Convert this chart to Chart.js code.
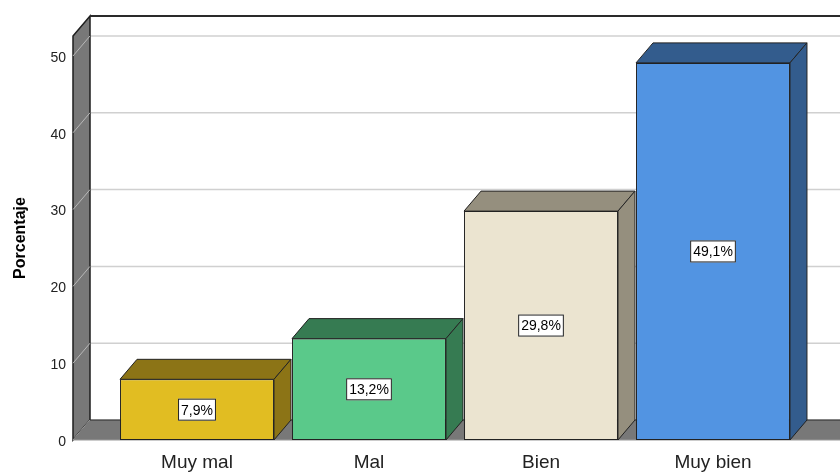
<!DOCTYPE html>
<html>
<head>
<meta charset="utf-8">
<script src="https://cdn.jsdelivr.net/npm/chart.js@4.4.1/dist/chart.umd.min.js"></script>
<style>
  html, body { margin: 0; padding: 0; background: #fff; }
</style>
</head>
<body>
<canvas id="barChart" width="840" height="472"></canvas>
<script>
const categories = ["Muy mal", "Mal", "Bien", "Muy bien"];
const percentages = [7.9, 13.2, 29.8, 49.1];
const yTicks = [0, 10, 20, 30, 40, 50];
const yMax = 52.6;

const frontColors = ["#e1bd22", "#5ac98a", "#ebe4d0", "#5294e2"];
const shadeColors = ["#8c7416", "#367b52", "#958f7e", "#335c8d"];

// 3d look: how far the back plane sits from the front plane
const depth = { x: 17, y: 20 };
const wallGap = 38;

Chart.defaults.font.family = "'Liberation Sans', Arial, sans-serif";

const poly = (ctx, pts) => {
  ctx.beginPath();
  ctx.moveTo(pts[0][0], pts[0][1]);
  pts.slice(1).forEach((p) => ctx.lineTo(p[0], p[1]));
  ctx.closePath();
};

const line = (ctx, x1, y1, x2, y2) => {
  ctx.beginPath();
  ctx.moveTo(x1, y1);
  ctx.lineTo(x2, y2);
  ctx.stroke();
};

const box3d = {
  id: "box3d",
  beforeDatasetsDraw(chart) {
    const { ctx, chartArea: a } = chart;
    const y = chart.scales.y;
    const wx = a.left - wallGap;
    const bx = wx + depth.x;
    const far = chart.width + depth.x + 5;
    ctx.save();

    // grid lines on the back wall
    ctx.strokeStyle = "#d0d0d0";
    ctx.lineWidth = 1.5;
    y.ticks.forEach((t) => {
      const py = y.getPixelForValue(t.value) - depth.y;
      line(ctx, bx, py, chart.width, py);
    });

    // left wall
    ctx.fillStyle = "#787878";
    ctx.strokeStyle = "#1e1e1e";
    ctx.lineWidth = 1.5;
    poly(ctx, [[wx, a.top], [bx, a.top - depth.y], [bx, a.bottom - depth.y], [wx, a.bottom]]);
    ctx.fill();
    ctx.stroke();

    ctx.strokeStyle = "#b8b8b8";
    ctx.lineWidth = 1;
    y.ticks.forEach((t) => {
      const py = y.getPixelForValue(t.value);
      line(ctx, wx, py, bx, py - depth.y);
    });

    // floor
    ctx.fillStyle = "#787878";
    poly(ctx, [[wx, a.bottom], [bx, a.bottom - depth.y], [far, a.bottom - depth.y], [far, a.bottom]]);
    ctx.fill();
    ctx.strokeStyle = "#2a2a2a";
    ctx.lineWidth = 1.2;
    line(ctx, bx, a.bottom - depth.y, chart.width, a.bottom - depth.y);
    ctx.strokeStyle = "#9a9a9a";
    line(ctx, wx, a.bottom, chart.width, a.bottom);

    // top edge of back wall
    ctx.strokeStyle = "#2a2a2a";
    ctx.lineWidth = 2;
    line(ctx, bx, a.top - depth.y, chart.width, a.top - depth.y);
    ctx.restore();
  },
  afterDatasetsDraw(chart) {
    const { ctx } = chart;
    const meta = chart.getDatasetMeta(0);
    ctx.save();
    meta.data.forEach((bar, i) => {
      const { x, y, base, width } = bar.getProps(["x", "y", "base", "width"], true);
      const l = x - width / 2;
      const r = x + width / 2;
      ctx.fillStyle = shadeColors[i];
      ctx.strokeStyle = "#222";
      ctx.lineWidth = 1;
      // top face
      poly(ctx, [[l, y], [l + depth.x, y - depth.y], [r + depth.x, y - depth.y], [r, y]]);
      ctx.fill();
      ctx.stroke();
      // side face
      poly(ctx, [[r, y], [r + depth.x, y - depth.y], [r + depth.x, base - depth.y], [r, base]]);
      ctx.fill();
      ctx.stroke();

      // value label box
      const text = percentages[i].toFixed(1).replace(".", ",") + "%";
      ctx.font = "14px 'Liberation Sans', Arial, sans-serif";
      const tw = ctx.measureText(text).width;
      const cy = (y + base) / 2;
      const bw = tw + 6;
      const bh = 22;
      ctx.fillStyle = "#fff";
      ctx.fillRect(x - bw / 2, cy - bh / 2, bw, bh);
      ctx.strokeStyle = "#222";
      ctx.strokeRect(x - bw / 2 + 0.5, cy - bh / 2 + 0.5, bw - 1, bh - 1);
      ctx.fillStyle = "#000";
      ctx.textAlign = "center";
      ctx.textBaseline = "middle";
      ctx.fillText(text, x, cy + 1);
    });
    ctx.restore();
  },
};

new Chart(document.getElementById("barChart").getContext("2d"), {
  type: "bar",
  data: {
    labels: categories,
    datasets: [
      {
        label: "Porcentaje",
        data: percentages,
        backgroundColor: frontColors,
        borderColor: "#222",
        borderWidth: 1,
        borderSkipped: false,
        barPercentage: 0.895,
        categoryPercentage: 1,
      },
    ],
  },
  options: {
    responsive: false,
    animation: false,
    devicePixelRatio: 1,
    layout: { padding: { left: 7, right: 41, top: 36, bottom: 0 } },
    plugins: {
      legend: { display: false },
      tooltip: { enabled: false },
    },
    scales: {
      x: {
        offset: true,
        grid: { display: false, drawTicks: false },
        border: { display: false },
        ticks: { padding: 11, color: "#222", font: { size: 19 }, maxRotation: 0 },
        afterFit: (scale) => {
          scale.height = 32;
        },
      },
      y: {
        min: 0,
        max: yMax,
        grid: { display: false, drawTicks: false },
        border: { display: false },
        ticks: { padding: 45, labelOffset: 2, color: "#222", font: { size: 14 } },
        afterBuildTicks: (scale) => {
          scale.ticks = yTicks.map((v) => ({ value: v }));
        },
        afterFit: (scale) => {
          scale.width = 104;
          scale.paddingTop = 0;
          scale.paddingBottom = 0;
        },
        title: {
          display: true,
          text: "Porcentaje",
          color: "#000",
          font: { size: 16, weight: "bold" },
          padding: { top: 4, bottom: 4 },
        },
      },
    },
  },
  plugins: [box3d],
});
</script>
</body>
</html>
